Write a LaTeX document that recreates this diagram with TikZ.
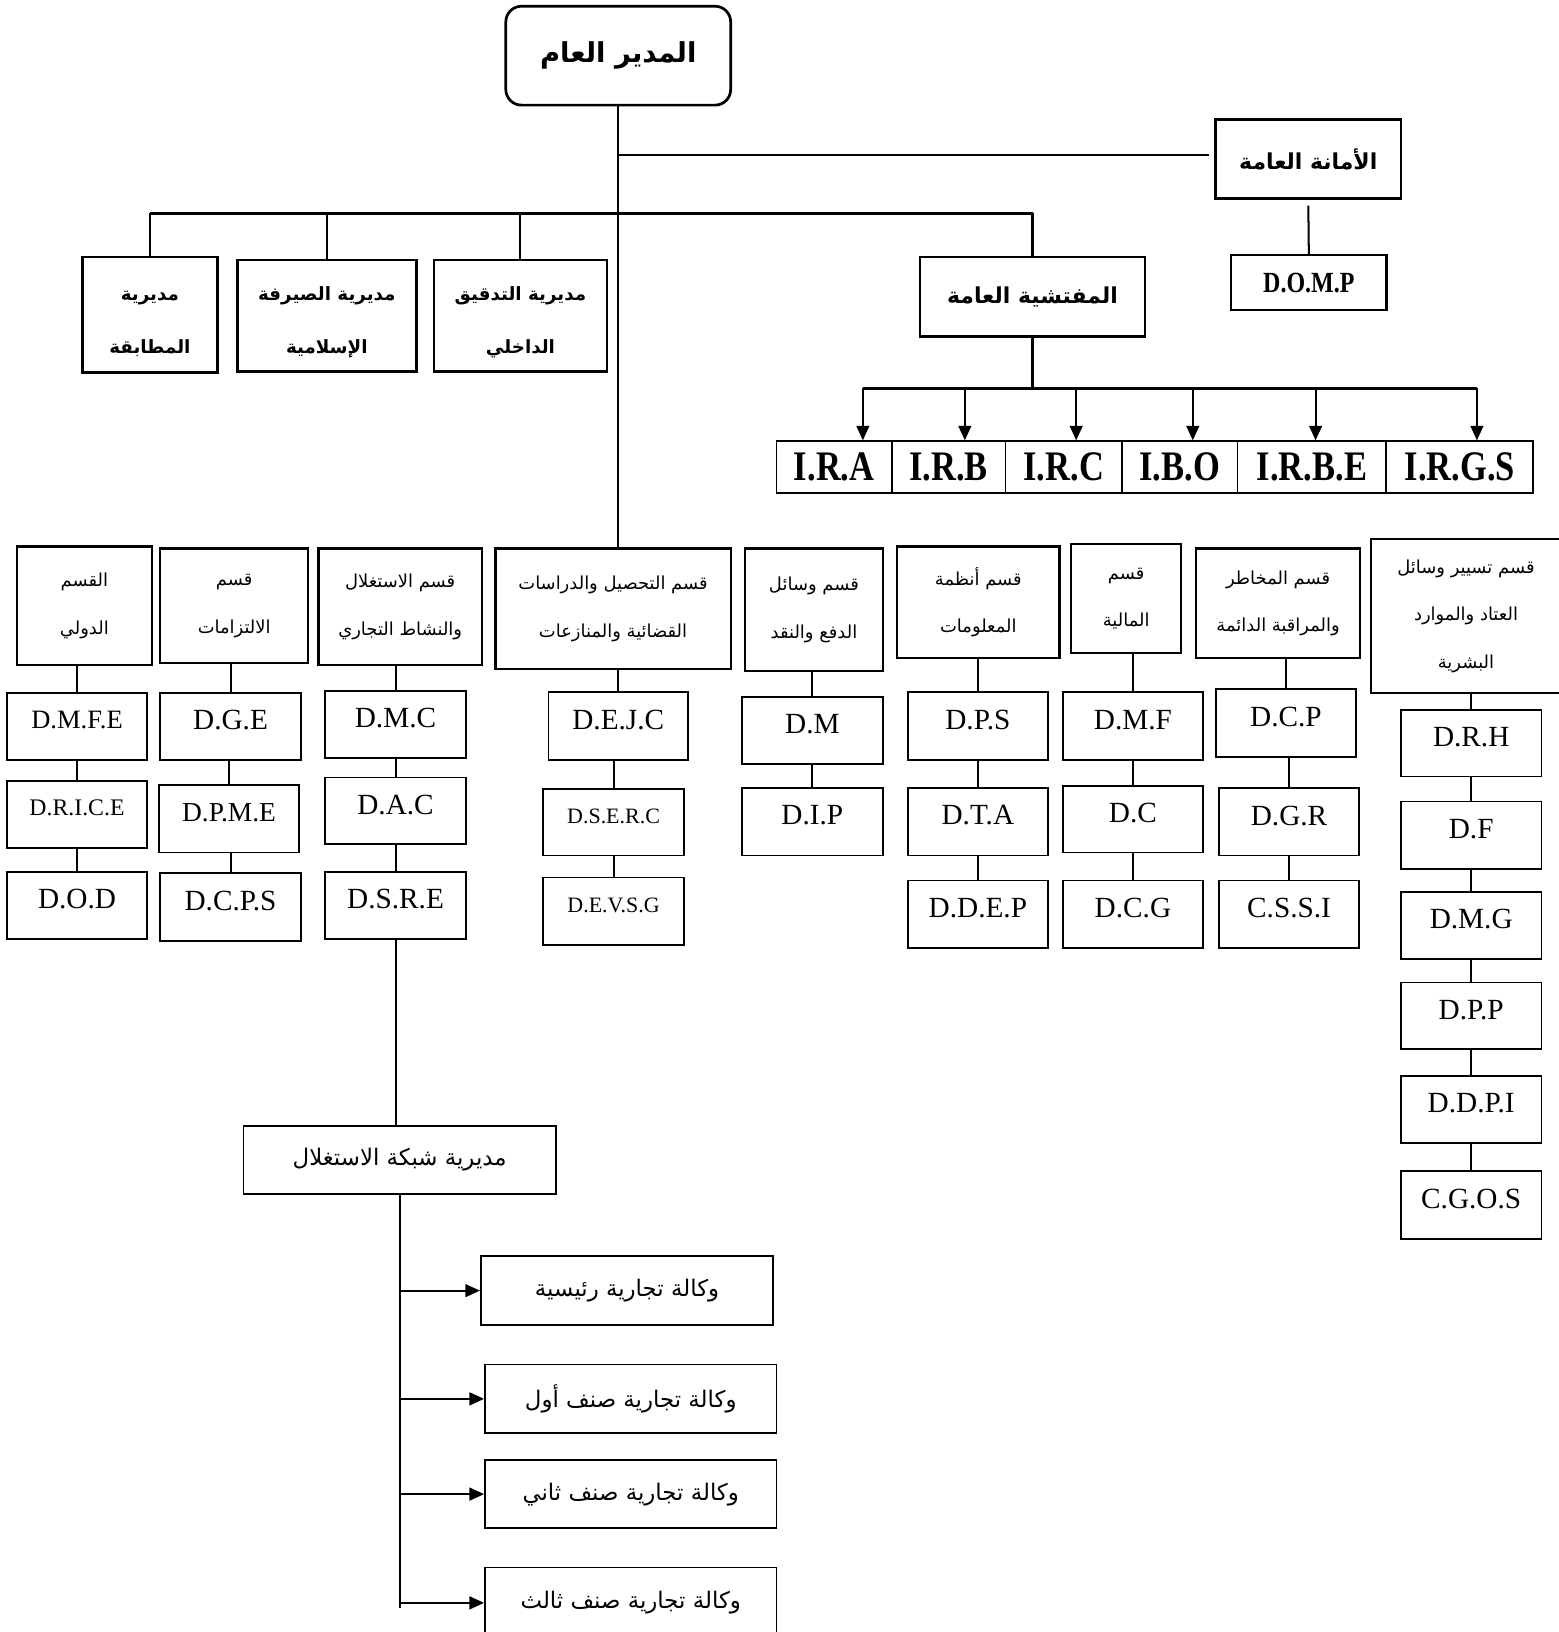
\documentclass[tikz,border=0pt]{standalone}
\usepackage{fontspec}
\setmainfont{Liberation Serif}
\newfontfamily\arabicfont[Script=Arabic]{DejaVu Sans}
\newfontfamily\narrowfont[FakeStretch=0.82]{Liberation Serif}
\TeXXeTstate=1
\usetikzlibrary{arrows.meta}

\newcommand{\rl}[1]{\beginR #1\endR}
% box from corner (x1,y1) to (x2,y2), in picture units
\newcommand{\orgbox}[7]{%
  \pgfmathsetmacro{\boxw}{(#5-#3)*0.02}%
  \pgfmathsetmacro{\boxh}{(#6-#4)*0.02}%
  \node[#1, minimum width=\boxw cm, minimum height=\boxh cm] (#2) at ({(#3+#5)/2},{(#4+#6)/2}) {#7};}

\tikzset{
  box/.style={draw, line width=1pt, inner sep=0pt, align=center},
  topbox/.style={box, line width=1.5pt, font=\arabicfont\bfseries\fontsize{12}{20}\selectfont},
  dirbox/.style={box, line width=1.4pt, text height=44pt, font=\arabicfont\bfseries\fontsize{10}{29}\selectfont},
  deptbox/.style={box, line width=1.2pt, font=\arabicfont\fontsize{9.8}{26}\selectfont},
  subbox/.style={box, text depth=7pt, font=\fontsize{16}{18}\selectfont},
  irbox/.style={box, font=\narrowfont\bfseries\fontsize{23}{25}\selectfont},
  agbox/.style={box, font=\arabicfont\fontsize{12.5}{15}\selectfont},
  link/.style={line width=1.1pt},
}

\begin{document}
\begin{tikzpicture}[x=0.02cm, y=-0.02cm, >={Triangle[length=8pt,width=7pt]}]
\useasboundingbox (0,0) rectangle (1497,1568);

% head and staff
\orgbox{topbox, rounded corners=0.3cm, font=\arabicfont\bfseries\fontsize{15}{20}\selectfont}{dg}{486}{6}{702}{101}{\rl{المدير العام}}
\orgbox{topbox}{sg}{1168}{115}{1346}{191}{\rl{الأمانة العامة}}
\orgbox{box, line width=1.3pt, font=\narrowfont\bfseries\fontsize{16}{18}\selectfont}{domp}{1183}{245}{1332}{298}{D.O.M.P}
\orgbox{topbox}{insp}{884}{247}{1100}{323}{\rl{المفتشية العامة}}
\orgbox{dirbox}{mut}{79}{247}{209}{358}{\rl{مديرية}\\\rl{المطابقة}}
\orgbox{dirbox}{say}{228}{250}{400}{357}{\rl{مديرية الصيرفة}\\\rl{الإسلامية}}
\orgbox{dirbox}{tad}{417}{250}{583}{357}{\rl{مديرية التدقيق}\\\rl{الداخلي}}

% regional inspections
\orgbox{irbox}{ira}{746}{424}{857}{474}{I.R.A}
\orgbox{irbox}{irb}{857}{424}{966}{474}{I.R.B}
\orgbox{irbox}{irc}{966}{424}{1078}{474}{I.R.C}
\orgbox{irbox}{ibo}{1078}{424}{1189}{474}{I.B.O}
\orgbox{irbox}{irbe}{1189}{424}{1332}{474}{I.R.B.E}
\orgbox{irbox}{irgs}{1332}{424}{1473}{474}{I.R.G.S}

% departments
\orgbox{deptbox}{intl}{16}{525}{146}{639}{\rl{القسم}\\\rl{الدولي}}
\orgbox{deptbox}{iltz}{154}{527}{296}{637}{\rl{قسم}\\\rl{الالتزامات}}
\orgbox{deptbox}{expl}{306}{527}{463}{639}{\rl{قسم الاستغلال}\\\rl{والنشاط التجاري}}
\orgbox{deptbox}{recv}{476}{527}{702}{643}{\rl{قسم التحصيل والدراسات}\\\rl{القضائية والمنازعات}}
\orgbox{deptbox}{paym}{716}{527}{848}{645}{\rl{قسم وسائل}\\\rl{الدفع والنقد}}
\orgbox{deptbox}{info}{862}{525}{1018}{632}{\rl{قسم أنظمة}\\\rl{المعلومات}}
\orgbox{deptbox}{fina}{1029}{523}{1135}{627}{\rl{قسم}\\\rl{المالية}}
\orgbox{deptbox}{risk}{1149}{527}{1307}{632}{\rl{قسم المخاطر}\\\rl{والمراقبة الدائمة}}
\orgbox{deptbox}{mgmt}{1317}{518}{1500}{666}{\rl{قسم تسيير وسائل}\\\rl{العتاد والموارد}\\\rl{البشرية}}

% directorates under the departments
\orgbox{subbox, font=\fontsize{14.5}{16}\selectfont}{dmfe}{7}{666}{141}{730}{D.M.F.E}
\orgbox{subbox, font=\fontsize{13}{15}\selectfont}{drice}{7}{750}{141}{815}{D.R.I.C.E}
\orgbox{subbox}{dod}{7}{838}{141}{902}{D.O.D}
\orgbox{subbox}{dge}{154}{666}{289}{730}{D.G.E}
\orgbox{subbox, font=\fontsize{15}{17}\selectfont}{dpme}{153}{754}{287}{819}{D.P.M.E}
\orgbox{subbox}{dcps}{154}{839}{289}{904}{D.C.P.S}
\orgbox{subbox}{dmc}{312}{664}{448}{728}{D.M.C}
\orgbox{subbox}{dac}{312}{747}{448}{811}{D.A.C}
\orgbox{subbox}{dsre}{312}{838}{448}{902}{D.S.R.E}
\orgbox{subbox}{dejc}{527}{665}{661}{730}{D.E.J.C}
\orgbox{subbox, font=\fontsize{12}{14}\selectfont}{dserc}{522}{758}{657}{822}{D.S.E.R.C}
\orgbox{subbox, font=\fontsize{12}{14}\selectfont}{devsg}{522}{843}{657}{908}{D.E.V.S.G}
\orgbox{subbox}{dm}{713}{670}{848}{734}{D.M}
\orgbox{subbox}{dip}{713}{757}{848}{822}{D.I.P}
\orgbox{subbox}{dps}{872}{665}{1007}{730}{D.P.S}
\orgbox{subbox}{dta}{872}{757}{1007}{822}{D.T.A}
\orgbox{subbox}{ddep}{872}{846}{1007}{911}{D.D.E.P}
\orgbox{subbox}{dmf}{1021}{665}{1156}{730}{D.M.F}
\orgbox{subbox}{dc}{1021}{755}{1156}{819}{D.C}
\orgbox{subbox}{dcg}{1021}{846}{1156}{911}{D.C.G}
\orgbox{subbox}{dcp}{1168}{662}{1303}{727}{D.C.P}
\orgbox{subbox}{dgr}{1171}{757}{1306}{822}{D.G.R}
\orgbox{subbox}{cssi}{1171}{846}{1306}{911}{C.S.S.I}
\orgbox{subbox}{drh}{1346}{682}{1481}{746}{D.R.H}
\orgbox{subbox}{df}{1346}{770}{1481}{835}{D.F}
\orgbox{subbox}{dmg}{1346}{857}{1481}{921}{D.M.G}
\orgbox{subbox}{dpp}{1346}{944}{1481}{1008}{D.P.P}
\orgbox{subbox}{ddpi}{1346}{1034}{1481}{1098}{D.D.P.I}
\orgbox{subbox}{cgos}{1346}{1125}{1481}{1190}{C.G.O.S}

% operating network and agencies
\orgbox{agbox}{net}{234}{1082}{534}{1147}{\rl{مديرية شبكة الاستغلال}}
\orgbox{agbox}{ag1}{462}{1207}{743}{1273}{\rl{وكالة تجارية رئيسية}}
\orgbox{agbox}{ag2}{466}{1311}{746}{1377}{\rl{وكالة تجارية صنف أول}}
\orgbox{agbox}{ag3}{466}{1403}{746}{1468}{\rl{وكالة تجارية صنف ثاني}}
\orgbox{agbox}{ag4}{466}{1506}{746}{1574}{\rl{وكالة تجارية صنف ثالث}}

\coordinate (dirbus) at (154,205);
\coordinate (sgbus) at (594,149);
\coordinate (irbus) at (829,373);
\coordinate (netend) at (385,1545);

% main lines
\draw[link] (dg.south) -- (dg.south |- recv.north);
\draw[link] (sgbus) -- ([xshift=-3pt]sg.west |- sgbus);
\draw[link] (sg.south) ++(0,-3pt) -- (domp.north);
\draw[link, line width=1.6pt] (mut.north |- dirbus) -- (insp.north |- dirbus);
\foreach \n in {mut,say,tad,insp}
  \draw[link] (\n.north |- dirbus) -- (\n.north);

% inspections
\draw[link] (insp.south) -- (insp.south |- irbus);
\draw[link, line width=1.6pt] (irbus) -- (1419,373);
\foreach \n/\x in {ira/829, irb/927, irc/1034, ibo/1146, irbe/1264, irgs/1419}
  \draw[link, ->] (\x,373) -- (\x,0 |- \n.north);

% columns
\foreach \a/\b in {intl/dmfe, dmfe/drice, drice/dod, iltz/dge, dge/dpme, dpme/dcps,
    expl/dmc, dmc/dac, dac/dsre, recv/dejc, dejc/dserc, dserc/devsg, paym/dm, dm/dip,
    info/dps, dps/dta, dta/ddep, fina/dmf, dmf/dc, dc/dcg, risk/dcp, dcp/dgr, dgr/cssi,
    mgmt/drh, drh/df, df/dmg, dmg/dpp, dpp/ddpi, ddpi/cgos}
  \draw[link] (\b.north |- \a.south) -- (\b.north);

\draw[link] (dsre.south) -- (dsre.south |- net.north);
\draw[link] (net.south) -- (net.south |- netend);
\foreach \n in {ag1,ag2,ag3,ag4}
  \draw[link, ->] (net.south |- \n.west) -- (\n.west);

\end{tikzpicture}
\end{document}
